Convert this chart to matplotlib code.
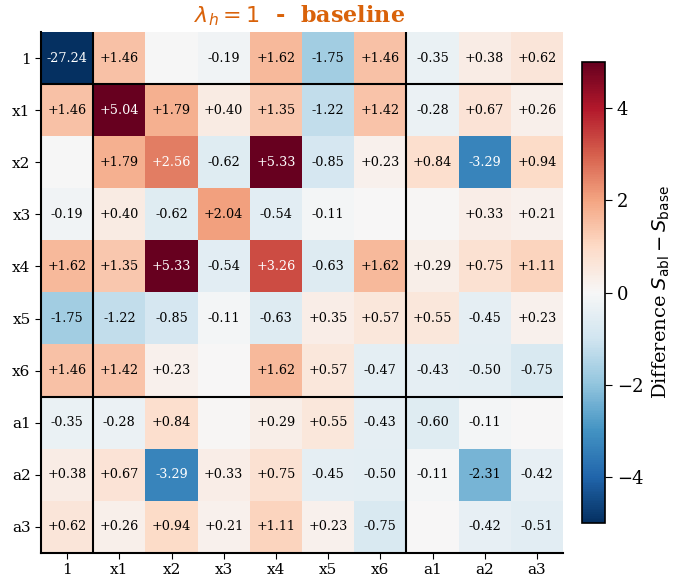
import numpy as np
import matplotlib
matplotlib.use("Agg")
import matplotlib.pyplot as plt

plt.rcParams['font.family'] = 'DejaVu Serif'

labels = ["1", "x1", "x2", "x3", "x4", "x5", "x6", "a1", "a2", "a3"]

# Diferencias S_abl - S_base (matriz simétrica)
row_1 = [-27.24, 1.46, -0.01, -0.19, 1.62, -1.75, 1.46, -0.35, 0.38, 0.62]
row_x1 = [1.46, 5.04, 1.79, 0.40, 1.35, -1.22, 1.42, -0.28, 0.67, 0.26]
row_x2 = [-0.01, 1.79, 2.56, -0.62, 5.33, -0.85, 0.23, 0.84, -3.29, 0.94]
row_x3 = [-0.19, 0.40, -0.62, 2.04, -0.54, -0.11, 0.01, 0.04, 0.33, 0.21]
row_x4 = [1.62, 1.35, 5.33, -0.54, 3.26, -0.63, 1.62, 0.29, 0.75, 1.11]
row_x5 = [-1.75, -1.22, -0.85, -0.11, -0.63, 0.35, 0.57, 0.55, -0.45, 0.23]
row_x6 = [1.46, 1.42, 0.23, 0.01, 1.62, 0.57, -0.47, -0.43, -0.50, -0.75]
row_a1 = [-0.35, -0.28, 0.84, 0.04, 0.29, 0.55, -0.43, -0.60, -0.11, 0.03]
row_a2 = [0.38, 0.67, -3.29, 0.33, 0.75, -0.45, -0.50, -0.11, -2.31, -0.42]
row_a3 = [0.62, 0.26, 0.94, 0.21, 1.11, 0.23, -0.75, 0.03, -0.42, -0.51]

diff = np.array([row_1, row_x1, row_x2, row_x3, row_x4,
                 row_x5, row_x6, row_a1, row_a2, row_a3])
n = len(labels)

fig = plt.figure(figsize=(6.73, 5.88), dpi=100)
ax = fig.add_axes([0.061, 0.0595, 0.7756, 0.886])
cax = fig.add_axes([0.8648, 0.1105, 0.0342, 0.784])

im = ax.imshow(diff, cmap='RdBu_r', vmin=-5, vmax=5, aspect='auto',
               extent=(0, n, n, 0), interpolation='nearest')

for i in range(n):
    for j in range(n):
        v = diff[i, j]
        if abs(v) < 0.1:
            continue
        color = 'white' if abs(v) > 2.5 else 'black'
        ax.text(j + 0.5, i + 0.5, f"{v:+.2f}", ha='center', va='center',
                fontsize=9.2, color=color)

# Separadores de bloques: constante | estados | acciones
for pos in (1, 7):
    ax.axvline(pos, color='black', lw=1.5)
    ax.axhline(pos, color='black', lw=1.5)

ax.set_xticks(np.arange(n) + 0.5)
ax.set_yticks(np.arange(n) + 0.5)
ax.set_xticklabels(labels, fontsize=11)
ax.set_yticklabels(labels, fontsize=11)
ax.tick_params(length=4)
ax.spines['top'].set_visible(False)
ax.spines['right'].set_visible(False)
ax.spines['left'].set_linewidth(1.5)
ax.spines['bottom'].set_linewidth(1.5)
ax.set_xlim(0, n)
ax.set_ylim(n, 0)

ax.set_title(r"$\lambda_h = 1$  -  baseline", fontsize=16, fontweight='bold',
             color='#d9620a', pad=7, x=0.495)

cb = fig.colorbar(im, cax=cax)
cb.set_ticks([-4, -2, 0, 2, 4])
cb.ax.tick_params(labelsize=13, length=5)
cb.outline.set_linewidth(1.2)
cb.set_label(r"Difference $S_{\rm abl} - S_{\rm base}$", fontsize=14,
             labelpad=5)

fig.savefig("out.png", dpi=100)
